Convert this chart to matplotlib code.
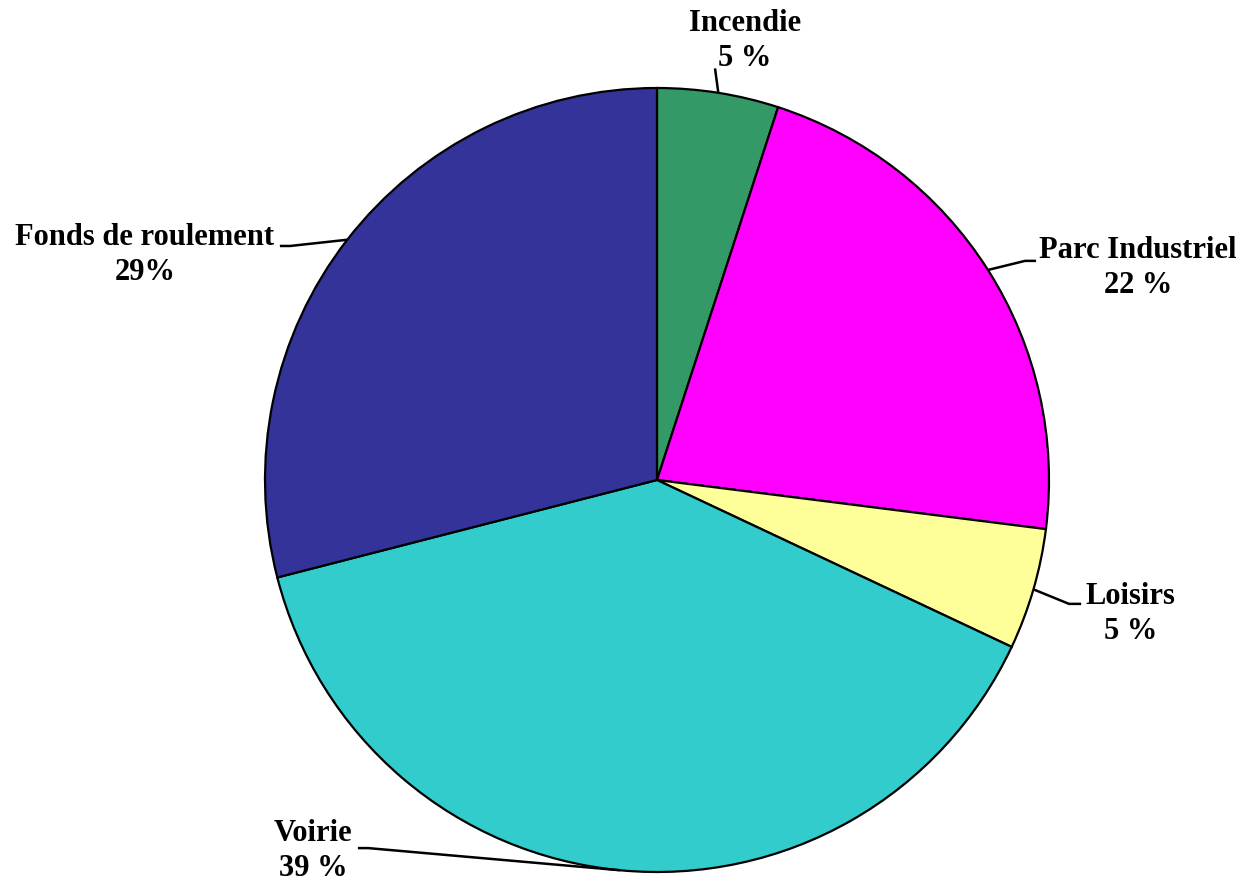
import numpy as np
import matplotlib.pyplot as plt

# Data
labels = ["Incendie", "Parc Industriel", "Loisirs", "Voirie", "Fonds de roulement"]
values = [5, 22, 5, 39, 29]
pct_text = ["5 %", "22 %", "5 %", "39 %", "29%"]
colors = ["#339966", "#FF00FF", "#FFFF99", "#33CCCC", "#333399"]

# label text centre and leader line points (in pie-radius units)
text_pos = [(0.224, 1.12), (1.227, 0.541), (1.209, -0.342), (-0.878, -0.946), (-1.306, 0.574)]
elbows = [None, (0.939, 0.559), (1.051, -0.316), (-0.737, -0.939), (-0.936, 0.597)]
line_end = [(0.148, 1.05), (0.967, 0.559), (1.082, -0.316), (-0.763, -0.939), (-0.962, 0.597)]

fig = plt.figure(figsize=(12.45, 8.86), dpi=100)
ax = fig.add_axes([0, 0, 1, 1])

wedges, _ = ax.pie(values, colors=colors, startangle=90, counterclock=False,
                   radius=1.0, wedgeprops=dict(edgecolor="black", linewidth=1.6))

for w, lab, pct, tp, el, le in zip(wedges, labels, pct_text, text_pos, elbows, line_end):
    mid = np.deg2rad((w.theta1 + w.theta2) / 2)
    start = (np.cos(mid), np.sin(mid))
    pts = [start] + ([el] if el is not None else []) + [le]
    xs, ys = zip(*pts)
    ax.plot(xs, ys, color="black", lw=1.8, solid_capstyle="butt")
    ax.text(tp[0], tp[1], lab + "\n" + pct, ha="center", va="center",
            fontsize=22, fontweight="bold", family="Liberation Serif",
            linespacing=1.25)

ax.set_xlim(-657 / 392, (1245 - 657) / 392)
ax.set_ylim(-(886 - 480) / 392, 480 / 392)
ax.set_aspect("equal")
ax.axis("off")

fig.savefig("out.png", dpi=100)
